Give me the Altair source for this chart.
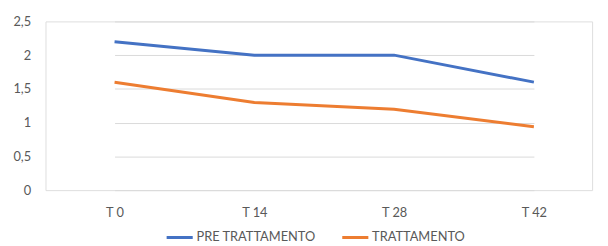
import altair as alt
import pandas as pd

categories = ["T 0", "T 14", "T 28", "T 42"]
pre_trattamento = [2.2, 2.0, 2.0, 1.6]
trattamento = [1.6, 1.3, 1.2, 0.94]
series_names = ["PRE TRATTAMENTO", "TRATTAMENTO"]
y_ticks = [0, 0.5, 1, 1.5, 2, 2.5]

rows = []
for c, v in zip(categories, pre_trattamento):
    rows.append({"tempo": c, "valore": v, "serie": series_names[0]})
for c, v in zip(categories, trattamento):
    rows.append({"tempo": c, "valore": v, "serie": series_names[1]})
df = pd.DataFrame(rows)

FONT = "Lato"
GREY = "#595959"

chart = alt.Chart(df).mark_line(strokeWidth=3).encode(
    x=alt.X("tempo:N", sort=categories,
            scale=alt.Scale(type="point", range=[70, 495], padding=0),
            axis=alt.Axis(title=None, labelAngle=0, ticks=False, domain=False,
                          labelPadding=17, labelFont=FONT, labelFontSize=13,
                          labelColor=GREY, grid=False)),
    y=alt.Y("valore:Q", scale=alt.Scale(domain=[0, 2.5], nice=False),
            axis=alt.Axis(title=None, values=y_ticks, ticks=False, domain=False,
                          labelExpr="replace(format(datum.value, ''), '.', ',')",
                          labelPadding=15, labelFont=FONT, labelFontSize=13,
                          labelColor=GREY, gridColor="#d9d9d9", gridWidth=1)),
    color=alt.Color("serie:N", sort=series_names,
                    scale=alt.Scale(domain=series_names, range=["#4472C4", "#ED7D31"]),
                    legend=alt.Legend(title=None, orient="none", direction="horizontal",
                                      legendX=121, legendY=204,
                                      symbolType="stroke", symbolSize=700, symbolStrokeWidth=3,
                                      labelFont=FONT, labelFontSize=13, labelColor=GREY,
                                      labelOffset=2, columnPadding=20)),
).properties(
    width=554, height=171,
    autosize=alt.AutoSizeParams(type="none"),
    padding={"left": 38, "top": 12, "right": 8, "bottom": 55},
).configure_view(stroke=None).configure(background="white")

chart.save("out.html", embed_options={"renderer": "svg", "actions": False})
